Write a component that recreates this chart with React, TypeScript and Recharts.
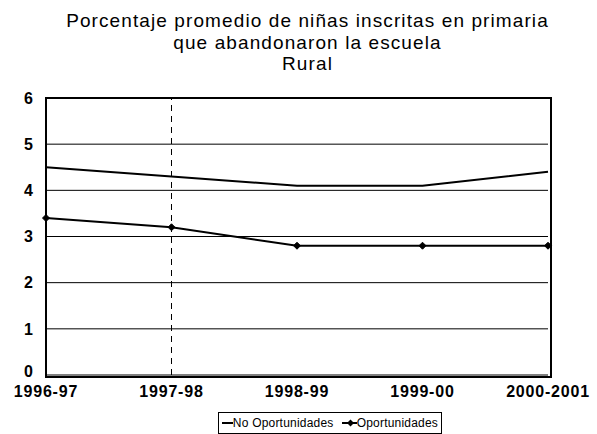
import React from "react";
import { LineChart, Line, XAxis, YAxis, CartesianGrid, ReferenceLine } from "recharts";

const years = ["1996-97", "1997-98", "1998-99", "1999-00", "2000-2001"];
const noOportunidades = [4.5, 4.3, 4.1, 4.1, 4.4];
const oportunidades = [3.4, 3.2, 2.8, 2.8, 2.8];
const yTicks = [0, 1, 2, 3, 4, 5, 6];
const titleLines = [
  "Porcentaje promedio de niñas inscritas en primaria",
  "que abandonaron la escuela",
  "Rural",
];

const data = years.map((year, i) => ({
  year,
  noOport: noOportunidades[i],
  oport: oportunidades[i],
}));

const FONT = "'Liberation Sans', Arial, sans-serif";

function Diamond(props: any) {
  const { cx, cy } = props;
  if (cx == null || cy == null) return null;
  const s = 3.5;
  return (
    <path
      d={`M${cx},${cy - s} L${cx + s},${cy} L${cx},${cy + s} L${cx - s},${cy} Z`}
      fill="#000"
      stroke="#000"
    />
  );
}

// the "0" sits a bit higher than the axis line, like the original
function YTick(props: any) {
  const { x, y, payload } = props;
  const lift = payload.value === 0 ? -4 : 0;
  return (
    <text
      x={x}
      y={y + lift}
      dy="0.355em"
      textAnchor="end"
      fill="#000"
      fontSize={16}
      fontFamily={FONT}
      fontWeight="bold"
    >
      {payload.value}
    </text>
  );
}

function LegendBox() {
  return (
    <div
      style={{
        position: "absolute",
        left: 218,
        top: 412,
        border: "1px solid #000",
        display: "flex",
        alignItems: "center",
        height: 22,
        width: 224,
        padding: "0 3px",
        fontFamily: FONT,
        fontSize: 12,
        letterSpacing: 0.2,
        color: "#000",
        boxSizing: "border-box",
        whiteSpace: "nowrap",
      }}
    >
      <svg width={13} height={10}>
        <line x1={0} y1={5} x2={13} y2={5} stroke="#000" strokeWidth={2} />
      </svg>
      <span style={{ marginRight: 9 }}>No Oportunidades</span>
      <svg width={17} height={10}>
        <line x1={0} y1={5} x2={17} y2={5} stroke="#000" strokeWidth={2} />
        <path d="M8.5,1.5 L12,5 L8.5,8.5 L5,5 Z" fill="#000" />
      </svg>
      <span>Oportunidades</span>
    </div>
  );
}

export default function App() {
  return (
    <div style={{ position: "absolute", left: 0, top: 0, width: 597, height: 434, background: "#fff", overflow: "hidden" }}>
      <div
        style={{
          position: "absolute",
          left: 9,
          top: 10,
          width: 597,
          textAlign: "center",
          fontFamily: FONT,
          fontSize: 19,
          letterSpacing: 1.1,
          lineHeight: "21.5px",
          color: "#000",
        }}
      >
        {titleLines.map((t) => (
          <div key={t}>{t}</div>
        ))}
      </div>
      <LineChart
        width={597}
        height={434}
        data={data}
        margin={{ top: 98, right: 49, bottom: 29, left: 0 }}
      >
        <CartesianGrid vertical={false} stroke="#000" strokeWidth={1} />
        <XAxis
          dataKey="year"
          height={30}
          padding={{ left: 0, right: 0 }}
          axisLine={false}
          tickLine={false}
          tick={{ fill: "#000", fontSize: 16, fontFamily: FONT, fontWeight: "bold", letterSpacing: 0.8 }}
          tickMargin={5}
          interval={0}
        />
        <YAxis
          width={46}
          domain={[0, 6]}
          ticks={yTicks}
          axisLine={false}
          tickLine={false}
          tick={<YTick />}
          tickMargin={7}
        />
        <ReferenceLine x="1997-98" stroke="#000" strokeDasharray="6 5" strokeWidth={1} />
        <Line
          dataKey="noOport"
          name="No Oportunidades"
          stroke="#000"
          strokeWidth={2}
          dot={false}
          isAnimationActive={false}
        />
        <Line
          dataKey="oport"
          name="Oportunidades"
          stroke="#000"
          strokeWidth={2}
          dot={<Diamond />}
          activeDot={false}
          isAnimationActive={false}
        />
      </LineChart>
      <div
        style={{
          position: "absolute",
          left: 45,
          top: 97,
          width: 503,
          height: 277,
          border: "2px solid #000",
          pointerEvents: "none",
          boxSizing: "content-box",
        }}
      />
      <LegendBox />
    </div>
  );
}
